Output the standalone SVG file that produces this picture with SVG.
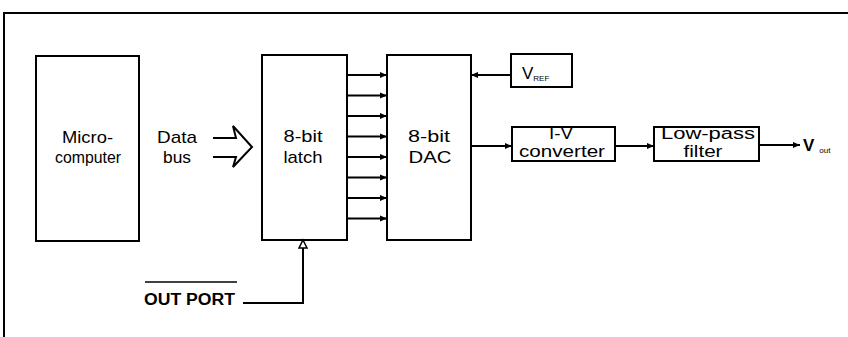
<svg xmlns="http://www.w3.org/2000/svg" width="848" height="337" viewBox="0 0 848 337">
<defs>
<style>
.box{fill:#fff;stroke:#000;stroke-width:2}
.ln{fill:none;stroke:#000;stroke-width:2}
.t{font-family:"Liberation Sans",Arial,sans-serif;font-size:17px;fill:#000;text-anchor:middle}
.s{font-size:16px}
.b{font-family:"Liberation Sans",Arial,sans-serif;font-size:16px;font-weight:bold;fill:#000}
</style>
<marker id="ah" markerWidth="8" markerHeight="8" refX="7" refY="4" orient="auto" markerUnits="userSpaceOnUse">
<path d="M0,1 L7,4 L0,7 Z" fill="#000"/>
</marker>
</defs>
<rect width="848" height="337" fill="#fff"/>
<path d="M4,337 V13 H848" class="ln"/>
<g id="microcomputer">
<rect x="36" y="56" width="103" height="185" class="box"/>
<text x="87.5" y="143" class="t" textLength="51" lengthAdjust="spacingAndGlyphs">Micro-</text>
<text x="88" y="163" class="t" textLength="66" lengthAdjust="spacingAndGlyphs">computer</text>
</g>
<g id="databus">
<text x="177" y="143" class="t" textLength="40" lengthAdjust="spacingAndGlyphs">Data</text>
<text x="177" y="163" class="t" textLength="28" lengthAdjust="spacingAndGlyphs">bus</text>
<path d="M213,138 H236 L233,126 L252,147 L233,167 L236,157 H213" class="ln" stroke-linejoin="miter"/>
</g>
<g id="latch">
<rect x="262" y="55" width="85" height="185" class="box"/>
<text x="303" y="142" class="t" textLength="39" lengthAdjust="spacingAndGlyphs">8-bit</text>
<text x="303" y="163" class="t" textLength="39" lengthAdjust="spacingAndGlyphs">latch</text>
</g>
<g id="dac">
<rect x="387" y="55" width="84" height="185" class="box"/>
<text x="429" y="142" class="t" textLength="42" lengthAdjust="spacingAndGlyphs">8-bit</text>
<text x="430" y="163" class="t" textLength="43" lengthAdjust="spacingAndGlyphs">DAC</text>
</g>
<g id="vref">
<rect x="511" y="54" width="61" height="33" class="box"/>
<text x="522" y="79" font-family="Liberation Sans,Arial,sans-serif" font-size="17">V<tspan font-size="8" dy="2">REF</tspan></text>
</g>
<g id="iv">
<rect x="512" y="127" width="103" height="34" class="box"/>
<text x="561" y="139" class="t s" textLength="24" lengthAdjust="spacingAndGlyphs">I-V</text>
<text x="562" y="157" class="t s" textLength="86" lengthAdjust="spacingAndGlyphs">converter</text>
</g>
<g id="lowpass">
<rect x="654" y="127" width="105" height="34" class="box"/>
<text x="708" y="139" class="t s" textLength="94" lengthAdjust="spacingAndGlyphs">Low-pass</text>
<text x="703" y="157" class="t s" textLength="39" lengthAdjust="spacingAndGlyphs">filter</text>
</g>
<g id="vout">
<text x="803" y="151" font-family="Liberation Sans,Arial,sans-serif" font-size="17" font-weight="bold">V<tspan font-size="8" font-weight="normal" dy="2" dx="5">out</tspan></text>
</g>
<g id="outport">
<text x="144" y="305" class="b" textLength="91" lengthAdjust="spacingAndGlyphs">OUT PORT</text>
<line x1="145" y1="282" x2="237" y2="282" stroke="#000" stroke-width="1.5"/>
</g>
<g id="connectors">
<line x1="347" y1="75" x2="387" y2="75" class="ln" marker-end="url(#ah)"/>
<line x1="347" y1="95.5" x2="387" y2="95.5" class="ln" marker-end="url(#ah)"/>
<line x1="347" y1="116" x2="387" y2="116" class="ln" marker-end="url(#ah)"/>
<line x1="347" y1="136.5" x2="387" y2="136.5" class="ln" marker-end="url(#ah)"/>
<line x1="347" y1="157" x2="387" y2="157" class="ln" marker-end="url(#ah)"/>
<line x1="347" y1="177.5" x2="387" y2="177.5" class="ln" marker-end="url(#ah)"/>
<line x1="347" y1="198" x2="387" y2="198" class="ln" marker-end="url(#ah)"/>
<line x1="347" y1="218.5" x2="387" y2="218.5" class="ln" marker-end="url(#ah)"/>
<line x1="511" y1="75" x2="471" y2="75" class="ln" marker-end="url(#ah)"/>
<line x1="471" y1="146" x2="512" y2="146" class="ln" marker-end="url(#ah)"/>
<line x1="615" y1="146" x2="654" y2="146" class="ln" marker-end="url(#ah)"/>
<line x1="759" y1="145" x2="800" y2="145" class="ln" marker-end="url(#ah)"/>
<path d="M243,303 H303 V248" class="ln"/>
<path d="M303,240 L307,248 L299,248 Z" fill="#fff" stroke="#000" stroke-width="1.5"/>
</g>
</svg>
